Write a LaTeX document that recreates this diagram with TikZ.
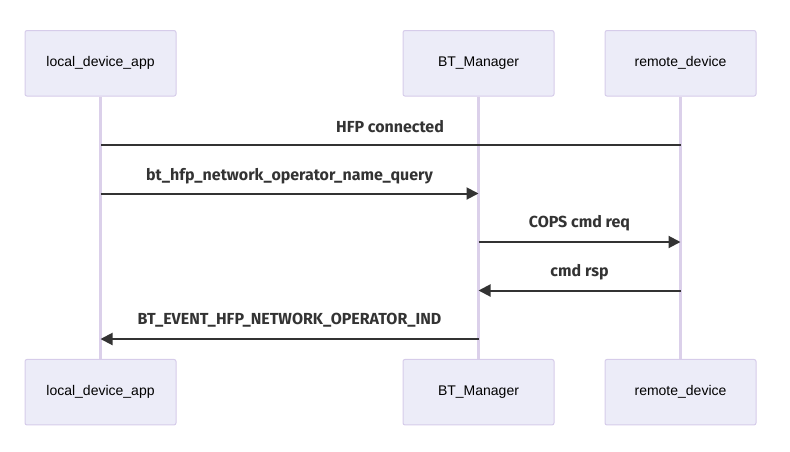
\documentclass[tikz,border=0pt]{standalone}
\usepackage{fontspec}
\setmainfont{Liberation Sans}
\newfontfamily\msgfont{Fira Sans}
\usetikzlibrary{arrows.meta}
\definecolor{boxfill}{HTML}{ECECF8}
\definecolor{boxline}{HTML}{D6CCEA}
\definecolor{lifeline}{HTML}{DBD0EA}
\definecolor{msgline}{HTML}{333333}
\begin{document}
\begin{tikzpicture}[x=1pt,y=-1pt,
  actor/.style={draw=boxline,fill=boxfill,line width=1pt,rounded corners=2pt,minimum width=151pt,minimum height=65.5pt,inner sep=0pt,font=\fontsize{14}{16}\selectfont,text=black},
  life/.style={draw=lifeline,line width=2.5pt},
  msg/.style={draw=msgline,line width=2pt,-{Triangle[length=12pt,width=12pt]}},
  plain/.style={draw=msgline,line width=2pt},
  lbl/.style={font=\msgfont\bfseries\fontsize{16}{18}\selectfont,text=msgline,inner sep=0pt}]
\useasboundingbox (0,0) rectangle (790,451);
\node[actor] (a1) at (100.5,63.3) {local\_device\_app};
\node[actor] (b1) at (478.5,63.3) {BT\_Manager};
\node[actor] (c1) at (680.5,63.3) {remote\_device};
\node[actor] (a2) at (100.5,392.2) {local\_device\_app};
\node[actor] (b2) at (478.5,392.2) {BT\_Manager};
\node[actor] (c2) at (680.5,392.2) {remote\_device};
\draw[life] (a1.south) -- (a2.north);
\draw[life] (b1.south) -- (b2.north);
\draw[life] (c1.south) -- (c2.north);
% messages
\coordinate (m1c) at (680.5,145);
\coordinate (m1a) at (100.5,145);
\draw[plain] (m1c) -- (m1a);
\node[lbl] (l1) at (390,127) {HFP connected};
\coordinate (m2a) at (100.5,193.5);
\coordinate (m2b) at (478.5,193.5);
\draw[msg] (m2a) -- (m2b);
\node[lbl] (l2) at (289.5,176) {bt\_hfp\_network\_operator\_name\_query};
\coordinate (m3b) at (478.5,242);
\coordinate (m3c) at (680.5,242);
\draw[msg] (m3b) -- (m3c);
\node[lbl] (l3) at (579.5,223.5) {COPS cmd req};
\coordinate (m4c) at (680.5,290.5);
\coordinate (m4b) at (478.5,290.5);
\draw[msg] (m4c) -- (m4b);
\node[lbl] (l4) at (579.5,272) {cmd rsp};
\coordinate (m5b) at (478.5,339);
\coordinate (m5a) at (100.5,339);
\draw[msg] (m5b) -- (m5a);
\node[lbl] (l5) at (289.5,320.5) {BT\_EVENT\_HFP\_NETWORK\_OPERATOR\_IND};
\end{tikzpicture}
\end{document}
